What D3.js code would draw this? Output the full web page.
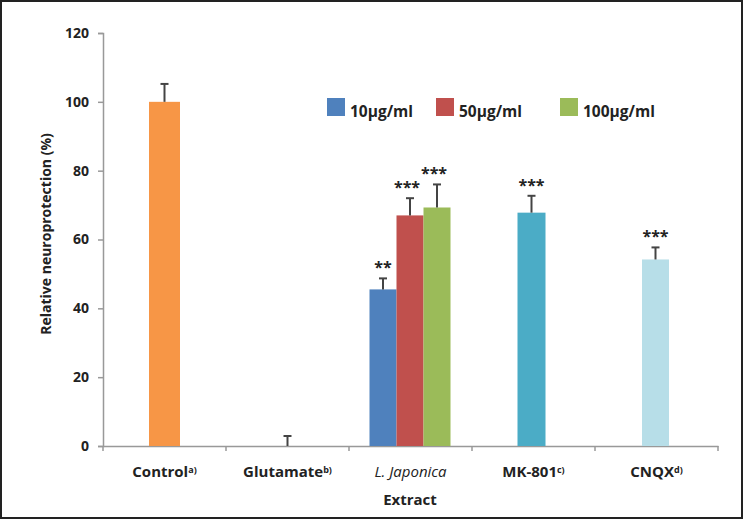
<!DOCTYPE html>
<html><head><meta charset="utf-8">
<script src="https://cdn.jsdelivr.net/npm/d3@7"></script>
<style>body{margin:0;background:#fff}svg{display:block}text{font-family:"Open Sans","Noto Sans",sans-serif;font-weight:bold;fill:#222}</style>
</head><body><svg id="c" width="743" height="520"></svg>
<script>
const categories = ["Control", "Glutamate", "L. Japonica", "MK-801", "CNQX"];
const superscripts = ["a)", "b)", "", "c)", "d)"];
const seriesNames = ["10μg/ml", "50μg/ml", "100μg/ml"];
const singleValues = [100, 0, null, 67.8, 54.2];
const singleErrors = [5.2, 2.9, null, 4.9, 3.5];
const singleStars = ["", "", "", "***", "***"];
const japonicaValues = [45.5, 67, 69.3];
const japonicaErrors = [3.2, 5, 6.7];
const japonicaStars = ["**", "***", "***"];
const yTicks = [0, 20, 40, 60, 80, 100, 120];

const singleColors = ["#F79646", "#F79646", null, "#4BACC6", "#B7DEE8"];
const seriesColors = ["#4F81BD", "#C0504D", "#9BBB59"];

const svg = d3.select("#c");
const x0 = 103, x1 = 718, yTop = 33, yBot = 446;
const x = d3.scaleBand().domain(categories).range([x0, x1]);
const y = d3.scaleLinear().domain([0, 120]).range([yBot, yTop]);
const sub = d3.scaleBand().domain(seriesNames).range([0, 81]);

// frame
svg.append("rect").attr("x", 1).attr("y", 1).attr("width", 741).attr("height", 517)
  .attr("fill", "none").attr("stroke", "#222").attr("stroke-width", 2);

// y axis
const ya = svg.append("g").attr("transform", `translate(${x0},0)`)
  .call(d3.axisLeft(y).tickValues(yTicks).tickSize(5).tickPadding(9));
ya.select(".domain").attr("stroke", "#999").attr("stroke-width", 1.5);
ya.selectAll(".tick line").attr("stroke", "#999").attr("stroke-width", 1.5);
ya.selectAll(".tick text").style("font-size", "14px").style("font-family", '"Open Sans",sans-serif').style("font-weight", "bold").attr("fill", "#222");

// x axis
const xa = svg.append("g").attr("transform", `translate(0,${yBot})`)
  .call(d3.axisBottom(x).tickSize(0).tickFormat(""));
xa.select(".domain").attr("stroke", "#999").attr("stroke-width", 1.5);
xa.selectAll(".tick").remove();
const bounds = categories.map(c => x(c)).concat([x1]);
svg.selectAll(".xt").data(bounds).enter().append("line")
  .attr("x1", d => d).attr("x2", d => d).attr("y1", yBot).attr("y2", yBot + 5)
  .attr("stroke", "#999").attr("stroke-width", 1.5);

// category labels
categories.forEach((c, i) => {
  const t = svg.append("text").attr("x", x(c) + x.bandwidth() / 2).attr("y", 477)
    .attr("text-anchor", "middle").style("font-size", "15px");
  const s = t.append("tspan").text(c);
  if (c === "L. Japonica") s.style("font-style", "italic").style("font-weight", "normal");
  if (superscripts[i]) t.append("tspan").text(superscripts[i]).attr("dy", -4).style("font-size", "9px");
});
svg.append("text").attr("x", 410).attr("y", 505).attr("text-anchor", "middle").style("font-size", "15px").text("Extract");
svg.append("text").attr("transform", `translate(51,234) rotate(-90)`)
  .attr("text-anchor", "middle").style("font-size", "14px").text("Relative neuroprotection (%)");

// single bars
const barW = [31, 28, 0, 28, 27];
categories.forEach((c, i) => {
  if (singleValues[i] === null) return;
  const cx = x(c) + x.bandwidth() / 2 + (i === 3 ? -2 : i === 4 ? -1 : 0);
  const w = barW[i];
  if (singleValues[i] > 0)
    svg.append("rect").attr("x", cx - w / 2).attr("y", y(singleValues[i])).attr("width", w)
      .attr("height", y(0) - y(singleValues[i])).attr("fill", singleColors[i]);
  const top = y(singleValues[i] + singleErrors[i]);
  svg.append("line").attr("x1", cx).attr("x2", cx).attr("y1", y(singleValues[i])).attr("y2", top).attr("stroke", "#444").attr("stroke-width", 2);
  svg.append("line").attr("x1", cx - 4).attr("x2", cx + 4).attr("y1", top).attr("y2", top).attr("stroke", "#444").attr("stroke-width", 2);
  if (singleStars[i])
    svg.append("text").attr("x", cx).attr("y", top - 5).attr("text-anchor", "middle").style("font-size", "16px").text(singleStars[i]);
});

// L. Japonica group
const gx = x("L. Japonica") + x.bandwidth() / 2 - 41;
seriesNames.forEach((s, j) => {
  const bx = gx + sub(s), w = sub.bandwidth();
  svg.append("rect").attr("x", bx).attr("y", y(japonicaValues[j])).attr("width", w)
    .attr("height", y(0) - y(japonicaValues[j])).attr("fill", seriesColors[j]);
  const cx = bx + w / 2, top = y(japonicaValues[j] + japonicaErrors[j]);
  svg.append("line").attr("x1", cx).attr("x2", cx).attr("y1", y(japonicaValues[j])).attr("y2", top).attr("stroke", "#444").attr("stroke-width", 2);
  svg.append("line").attr("x1", cx - 4).attr("x2", cx + 4).attr("y1", top).attr("y2", top).attr("stroke", "#444").attr("stroke-width", 2);
  svg.append("text").attr("x", cx - (j === 0 ? 0 : 3)).attr("y", top - 5).attr("text-anchor", "middle").style("font-size", "16px").text(japonicaStars[j]);
});

// legend
const legX = [327, 436, 560];
seriesNames.forEach((s, j) => {
  svg.append("rect").attr("x", legX[j]).attr("y", 98).attr("width", 18).attr("height", 18).attr("fill", seriesColors[j]);
  svg.append("text").attr("x", legX[j] + 23).attr("y", 117).style("font-size", "15.5px").text(s);
});
</script></body></html>
